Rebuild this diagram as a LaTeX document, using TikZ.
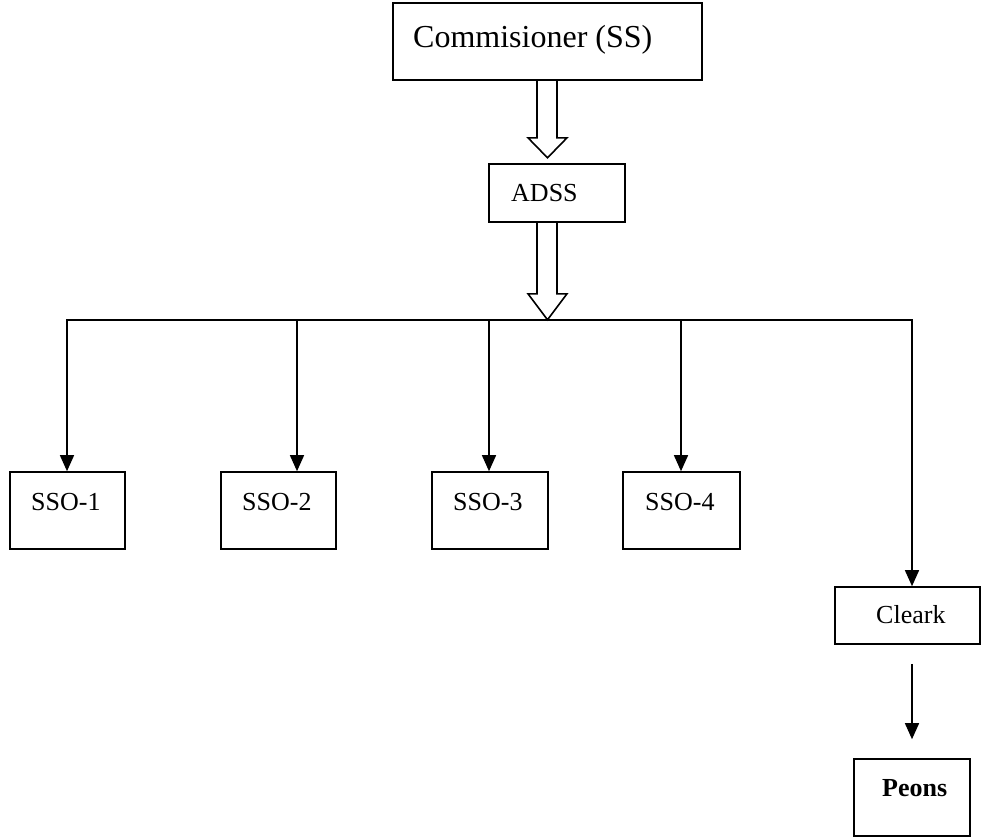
\documentclass[tikz,border=0pt]{standalone}
\usepackage{fontspec}
\setmainfont{Liberation Serif}
\usetikzlibrary{arrows.meta,calc}
\begin{document}
\begin{tikzpicture}[x=1pt,y=-1pt,
  box/.style={draw, line width=1.6pt, inner sep=0pt},
  lbl/.style={anchor=base west, inner sep=0pt, font=\fontsize{26}{30}\selectfont},
  conn/.style={line width=1.4pt},
  arr/.style={conn, -{Triangle[width=14pt,length=16pt]}},
  hollow/.style={line width=1.6pt, line join=miter}]
\useasboundingbox (0,0) rectangle (981,838);

% boxes
\node[box, minimum width=309pt, minimum height=77pt] (comm) at (547.5,41.5) {};
\node[lbl, font=\fontsize{32}{38}\selectfont] (commt) at (413,47) {Commisioner (SS)};
\node[box, minimum width=136pt, minimum height=58pt] (adss) at (557,193) {};
\node[lbl] (adsst) at (511,201) {ADSS};
\node[box, minimum width=115pt, minimum height=77pt] (sso1) at (67.5,510.5) {};
\node[lbl] (sso1t) at (31,510) {SSO-1};
\node[box, minimum width=115pt, minimum height=77pt] (sso2) at (278.5,510.5) {};
\node[lbl] (sso2t) at (242,510) {SSO-2};
\node[box, minimum width=116pt, minimum height=77pt] (sso3) at (490,510.5) {};
\node[lbl] (sso3t) at (453,510) {SSO-3};
\node[box, minimum width=117pt, minimum height=77pt] (sso4) at (681.5,510.5) {};
\node[lbl] (sso4t) at (645,510) {SSO-4};
\node[box, minimum width=145pt, minimum height=57pt] (cleark) at (907.5,615.5) {};
\node[lbl] (clearkt) at (876,623) {Cleark};
\node[box, minimum width=116pt, minimum height=77pt] (peons) at (912,797.5) {};
\node[lbl, font=\fontsize{26}{30}\selectfont\bfseries] (peonst) at (882,796) {Peons};

% hollow arrows
\coordinate (hx) at (547,0);
\draw[hollow] ($(hx|-comm.south)+(-10,0)$) -- ++(0,57) -- ++(-9,0) -- ++(19.5,20) -- ++(19.5,-20) -- ++(-10,0) -- ++(0,-57);
\draw[hollow] ($(hx|-adss.south)+(-10,0)$) -- ++(0,71) -- ++(-9,0) -- ++(19.5,26) -- ++(19.5,-26) -- ++(-10,0) -- ++(0,-71);

% bus
\coordinate (bl) at (67,320);
\coordinate (d2) at (297,320);
\coordinate (d3) at (489,320);
\coordinate (d4) at (681,320);
\coordinate (br) at (912,320);
\draw[arr] (d3) -| (bl|-sso1.north);
\draw[arr] (d3) -| (br|-cleark.north);
\draw[arr] (d2) -- (d2|-sso2.north);
\draw[arr] (d3) -- (d3|-sso3.north);
\draw[arr] (d4) -- (d4|-sso4.north);
\draw[arr] ($(br|-cleark.south)+(0,19)$) -- ($(br|-peons.north)+(0,-19)$);
\end{tikzpicture}
\end{document}
